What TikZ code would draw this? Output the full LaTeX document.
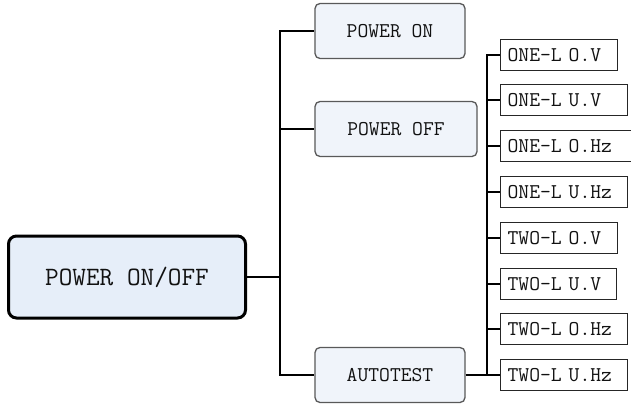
\documentclass[tikz,border=0pt]{standalone}
\usepackage{fontspec}
\newfontfamily\refmono{Latin Modern Mono}
\definecolor{rootfill}{HTML}{E6EEF9}
\definecolor{subfill}{HTML}{F0F4FA}
\definecolor{txt}{HTML}{111111}
\begin{document}
\begin{tikzpicture}[x=1pt,y=-1pt,
  rootbox/.style={draw=black, line width=3pt, rounded corners=8pt, fill=rootfill,
    minimum width=237pt, minimum height=82pt, inner sep=0pt,
    font=\refmono\fontsize{26.5}{27}\selectfont, text=txt},
  subbox/.style={draw=black!65, line width=1.3pt, rounded corners=5pt, fill=subfill,
    minimum height=55pt, inner sep=0pt,
    font=\refmono\fontsize{21}{22}\selectfont, text=txt},
  leafbox/.style={draw=black!85, line width=1.3pt, fill=white, anchor=west,
    minimum height=31pt, inner xsep=7pt, inner ysep=0pt, align=left, text width=#1,
    font=\refmono\fontsize{21}{22}\selectfont, text=txt},
  conn/.style={draw=black, line width=1.3pt}
]
\useasboundingbox (0,0) rectangle (631,404);
\fill[white] (0,0) rectangle (631,404);

\node[rootbox] (root) at (127,277) {POWER ON/OFF};

\node[subbox, minimum width=150pt] (pon) at (390,31) {POWER ON};
\node[subbox, minimum width=162pt] (poff) at (396,129) {POWER OFF};
\node[subbox, minimum width=150pt] (auto) at (390,375) {AUTOTEST};

\node[leafbox=103pt] (l1) at (500,55) {ONE-L O.V};
\node[leafbox=113pt] (l2) at (500,100) {ONE-L U.V};
\node[leafbox=121pt] (l3) at (500,146) {ONE-L O.Hz};
\node[leafbox=113pt] (l4) at (500,192) {ONE-L U.Hz};
\node[leafbox=103pt] (l5) at (500,238) {TWO-L O.V};
\node[leafbox=102pt] (l6) at (500,284) {TWO-L U.V};
\node[leafbox=113pt] (l7) at (500,329) {TWO-L O.Hz};
\node[leafbox=113pt] (l8) at (500,375) {TWO-L U.Hz};

\coordinate (t) at (280,277);
\coordinate (b) at (487,375);

\draw[conn] (root.east) -- (t);
\draw[conn] (t) |- (pon.west);
\draw[conn] (t) |- (poff.west);
\draw[conn] (t) |- (auto.west);

\draw[conn] (auto.east) -- (b);
\foreach \i in {1,...,8} {\draw[conn] (b) |- (l\i.west);}
\end{tikzpicture}
\end{document}
